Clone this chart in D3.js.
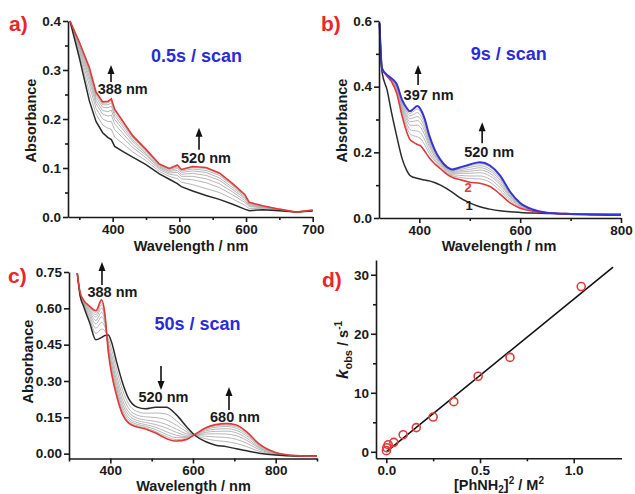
<!DOCTYPE html>
<html lang="en">
<head>
<meta charset="UTF-8">
<title>Spectral changes and kobs</title>
<script src="https://d3js.org/d3.v7.min.js"></script>
<style>
  body { margin: 0; background: #fff; }
  svg { font-family: "Liberation Sans", Arial, sans-serif; font-weight: bold; }
  .tick text { font-size: 13.5px; fill: #1a1a1a; }
  .domain, .tick line { stroke: #1a1a1a; stroke-width: 1.6; }
  .lbl { font-size: 14.5px; fill: #1a1a1a; }
  .letter { font-size: 21px; fill: #e8262c; }
  .rate { font-size: 18px; fill: #2b2bd9; }
  .note { font-size: 14.5px; fill: #1a1a1a; }
  .gray { fill: none; stroke: #a3a3a3; stroke-width: 0.8; }
  .black { fill: none; stroke: #2a2a2a; stroke-width: 1.5; }
  .red { fill: none; stroke: #e23a3a; stroke-width: 1.6; }
  .blue { fill: none; stroke: #3535d6; stroke-width: 2; }
</style>
</head>
<body>
<svg width="635" height="494"></svg>
<script>
// ---- panel a: 0.5 s / scan
const wlA = [336, 350, 365, 375, 385, 393, 398, 403, 415, 430, 450, 470, 485, 497, 503, 520, 540, 560, 580, 598, 605, 625, 650, 675, 700];
const blackA = [0.400, 0.325, 0.237, 0.195, 0.172, 0.162, 0.158, 0.144, 0.134, 0.122, 0.107, 0.088, 0.077, 0.068, 0.062, 0.053, 0.044, 0.036, 0.026, 0.016, 0.013, 0.015, 0.013, 0.010, 0.012];
const redA = [0.400, 0.357, 0.305, 0.255, 0.235, 0.236, 0.241, 0.220, 0.196, 0.166, 0.138, 0.108, 0.099, 0.106, 0.097, 0.103, 0.101, 0.090, 0.068, 0.046, 0.030, 0.023, 0.016, 0.010, 0.014];
const grayA = [
  [0.400, 0.333, 0.254, 0.210, 0.188, 0.181, 0.179, 0.163, 0.150, 0.133, 0.115, 0.093, 0.083, 0.078, 0.071, 0.066, 0.058, 0.050, 0.037, 0.024, 0.017, 0.017, 0.014, 0.010, 0.013],
  [0.400, 0.339, 0.268, 0.222, 0.200, 0.195, 0.195, 0.178, 0.162, 0.142, 0.121, 0.097, 0.087, 0.085, 0.078, 0.076, 0.070, 0.060, 0.045, 0.030, 0.021, 0.019, 0.014, 0.010, 0.013],
  [0.400, 0.344, 0.278, 0.231, 0.210, 0.206, 0.208, 0.190, 0.171, 0.148, 0.126, 0.100, 0.090, 0.091, 0.083, 0.083, 0.078, 0.068, 0.051, 0.034, 0.023, 0.020, 0.015, 0.010, 0.013],
  [0.400, 0.348, 0.286, 0.238, 0.217, 0.215, 0.218, 0.199, 0.179, 0.154, 0.129, 0.102, 0.093, 0.095, 0.087, 0.089, 0.085, 0.075, 0.056, 0.038, 0.025, 0.021, 0.015, 0.010, 0.013],
  [0.400, 0.351, 0.293, 0.244, 0.224, 0.223, 0.226, 0.206, 0.185, 0.158, 0.132, 0.104, 0.095, 0.099, 0.091, 0.094, 0.091, 0.080, 0.060, 0.041, 0.027, 0.022, 0.015, 0.010, 0.014],
  [0.400, 0.354, 0.298, 0.249, 0.229, 0.229, 0.233, 0.212, 0.190, 0.162, 0.135, 0.106, 0.097, 0.102, 0.094, 0.098, 0.095, 0.085, 0.064, 0.043, 0.028, 0.022, 0.016, 0.010, 0.014],
  [0.400, 0.356, 0.302, 0.253, 0.232, 0.233, 0.238, 0.217, 0.194, 0.164, 0.137, 0.107, 0.098, 0.104, 0.096, 0.101, 0.099, 0.088, 0.066, 0.045, 0.029, 0.023, 0.016, 0.010, 0.014]
];

// ---- panel b: 9 s / scan
const wlB = [321, 326, 336, 345, 355, 366, 375, 381, 388, 396, 403, 410, 420, 430, 442, 455, 465, 480, 500, 520, 540, 560, 580, 600, 625, 650, 700, 750, 800];
const blackB = [0.593, 0.445, 0.390, 0.320, 0.250, 0.180, 0.145, 0.130, 0.124, 0.121, 0.118, 0.116, 0.113, 0.108, 0.100, 0.089, 0.079, 0.062, 0.046, 0.034, 0.027, 0.022, 0.019, 0.017, 0.015, 0.014, 0.012, 0.011, 0.010];
const redB = [0.593, 0.456, 0.432, 0.415, 0.380, 0.309, 0.262, 0.240, 0.231, 0.224, 0.219, 0.205, 0.183, 0.166, 0.150, 0.133, 0.124, 0.117, 0.109, 0.106, 0.096, 0.073, 0.046, 0.030, 0.021, 0.016, 0.013, 0.012, 0.012];
const blueB = [0.593, 0.456, 0.436, 0.425, 0.408, 0.359, 0.335, 0.325, 0.332, 0.341, 0.330, 0.305, 0.250, 0.210, 0.177, 0.155, 0.148, 0.154, 0.163, 0.170, 0.160, 0.130, 0.080, 0.046, 0.026, 0.017, 0.012, 0.010, 0.009];
const grayB = [
  [0.593, 0.456, 0.433, 0.417, 0.386, 0.319, 0.277, 0.257, 0.251, 0.247, 0.241, 0.225, 0.196, 0.175, 0.155, 0.137, 0.129, 0.124, 0.120, 0.119, 0.109, 0.084, 0.053, 0.033, 0.022, 0.016, 0.013, 0.012, 0.011],
  [0.593, 0.456, 0.433, 0.419, 0.390, 0.327, 0.288, 0.270, 0.266, 0.265, 0.258, 0.240, 0.206, 0.181, 0.159, 0.141, 0.132, 0.130, 0.128, 0.128, 0.118, 0.093, 0.058, 0.036, 0.023, 0.016, 0.013, 0.011, 0.011],
  [0.593, 0.456, 0.434, 0.420, 0.394, 0.334, 0.299, 0.283, 0.282, 0.283, 0.275, 0.255, 0.217, 0.188, 0.164, 0.144, 0.136, 0.136, 0.136, 0.138, 0.128, 0.102, 0.063, 0.038, 0.024, 0.017, 0.013, 0.011, 0.011],
  [0.593, 0.456, 0.434, 0.421, 0.397, 0.340, 0.307, 0.293, 0.294, 0.297, 0.288, 0.267, 0.225, 0.193, 0.167, 0.147, 0.139, 0.140, 0.142, 0.146, 0.136, 0.108, 0.067, 0.040, 0.024, 0.017, 0.012, 0.011, 0.010],
  [0.593, 0.456, 0.435, 0.422, 0.400, 0.346, 0.315, 0.302, 0.305, 0.309, 0.300, 0.278, 0.232, 0.198, 0.170, 0.149, 0.142, 0.144, 0.148, 0.153, 0.143, 0.115, 0.071, 0.042, 0.025, 0.017, 0.012, 0.011, 0.010],
  [0.593, 0.456, 0.435, 0.423, 0.403, 0.351, 0.323, 0.311, 0.315, 0.321, 0.311, 0.288, 0.239, 0.203, 0.172, 0.151, 0.144, 0.148, 0.154, 0.159, 0.149, 0.120, 0.074, 0.043, 0.025, 0.017, 0.012, 0.010, 0.010],
  [0.593, 0.456, 0.436, 0.424, 0.406, 0.355, 0.329, 0.318, 0.324, 0.332, 0.321, 0.297, 0.245, 0.206, 0.175, 0.153, 0.146, 0.151, 0.159, 0.165, 0.155, 0.125, 0.077, 0.045, 0.026, 0.017, 0.012, 0.010, 0.009]
];

// ---- panel c: 50 s / scan
const wlC = [320, 327, 335, 350, 365, 379, 387, 395, 403, 415, 430, 445, 465, 485, 510, 535, 560, 585, 605, 630, 655, 680, 705, 730, 760, 800, 850, 900];
const blackC = [0.745, 0.650, 0.610, 0.540, 0.470, 0.480, 0.488, 0.490, 0.460, 0.380, 0.290, 0.225, 0.192, 0.185, 0.192, 0.192, 0.160, 0.110, 0.075, 0.050, 0.035, 0.029, 0.020, 0.012, 0.002, -0.006, -0.010, -0.010];
const redC = [0.745, 0.665, 0.635, 0.608, 0.590, 0.635, 0.575, 0.421, 0.330, 0.240, 0.160, 0.125, 0.110, 0.102, 0.085, 0.063, 0.052, 0.059, 0.080, 0.106, 0.120, 0.124, 0.118, 0.090, 0.040, 0.005, -0.008, -0.010];
const grayC = [
  [0.745, 0.653, 0.616, 0.555, 0.496, 0.514, 0.507, 0.475, 0.431, 0.349, 0.261, 0.203, 0.174, 0.167, 0.168, 0.164, 0.136, 0.099, 0.076, 0.062, 0.054, 0.050, 0.042, 0.029, 0.010, -0.004, -0.010, -0.010],
  [0.745, 0.656, 0.620, 0.567, 0.518, 0.542, 0.523, 0.462, 0.408, 0.324, 0.238, 0.185, 0.159, 0.152, 0.149, 0.140, 0.117, 0.090, 0.077, 0.072, 0.069, 0.067, 0.059, 0.043, 0.017, -0.002, -0.009, -0.010],
  [0.745, 0.658, 0.624, 0.577, 0.536, 0.565, 0.536, 0.452, 0.389, 0.303, 0.219, 0.170, 0.147, 0.139, 0.133, 0.121, 0.101, 0.082, 0.078, 0.081, 0.082, 0.081, 0.074, 0.055, 0.023, 0.000, -0.009, -0.010],
  [0.745, 0.660, 0.627, 0.586, 0.550, 0.584, 0.546, 0.444, 0.373, 0.286, 0.203, 0.158, 0.137, 0.129, 0.120, 0.106, 0.088, 0.076, 0.078, 0.088, 0.092, 0.093, 0.086, 0.064, 0.027, 0.001, -0.009, -0.010],
  [0.745, 0.662, 0.630, 0.593, 0.564, 0.601, 0.556, 0.436, 0.359, 0.271, 0.189, 0.147, 0.128, 0.120, 0.109, 0.091, 0.076, 0.070, 0.079, 0.094, 0.101, 0.103, 0.096, 0.073, 0.032, 0.003, -0.008, -0.010],
  [0.745, 0.663, 0.632, 0.599, 0.574, 0.615, 0.564, 0.430, 0.347, 0.258, 0.177, 0.138, 0.121, 0.113, 0.099, 0.080, 0.066, 0.066, 0.079, 0.099, 0.109, 0.112, 0.105, 0.080, 0.035, 0.004, -0.008, -0.010],
  [0.745, 0.664, 0.634, 0.604, 0.583, 0.626, 0.570, 0.425, 0.338, 0.248, 0.168, 0.131, 0.115, 0.107, 0.091, 0.071, 0.058, 0.062, 0.080, 0.103, 0.115, 0.118, 0.112, 0.085, 0.038, 0.004, -0.008, -0.010]
];

// ---- panel d: kobs vs [PhNH2]^2
const amineSq = [0.0004, 0.0025, 0.01, 0.04, 0.09, 0.16, 0.25, 0.36, 0.49, 0.66, 1.04];
const kobs = [0.2, 0.7, 1.2, 1.6, 2.9, 4.1, 5.9, 8.5, 12.8, 16.0, 28.0];
const fitX = [0, 1.21];
const fitY = [0, 31.3];

const svg = d3.select("svg");

function makePanel(c) {
  const g = svg.append("g");
  const x = d3.scaleLinear().domain(c.xDom).range(c.xRange);
  const y = d3.scaleLinear().domain(c.yDom).range(c.yRange);
  return { g, x, y, c };
}

function drawAxes(p) {
  const c = p.c;
  const bottom = c.yRange[0], left = c.xRange[0];
  p.g.append("g").attr("transform", "translate(0," + bottom + ")")
    .call(d3.axisBottom(p.x).tickValues(c.xMaj).tickSize(5).tickSizeOuter(0).tickPadding(2).tickFormat(c.xFmt));
  if (c.xMin) p.g.append("g").attr("transform", "translate(0," + bottom + ")")
    .call(d3.axisBottom(p.x).tickValues(c.xMin).tickSize(3).tickFormat(""))
    .call(a => a.select(".domain").remove());
  p.g.append("g").attr("transform", "translate(" + left + ",0)")
    .call(d3.axisLeft(p.y).tickValues(c.yMaj).tickSize(5).tickSizeOuter(0).tickPadding(2).tickFormat(c.yFmt));
  if (c.yMin) p.g.append("g").attr("transform", "translate(" + left + ",0)")
    .call(d3.axisLeft(p.y).tickValues(c.yMin).tickSize(3).tickFormat(""))
    .call(a => a.select(".domain").remove());
}

function curveOf(p, wl, vals, cls, curve) {
  p.g.append("path").datum(vals).attr("class", cls)
    .attr("d", d3.line().x((d, i) => p.x(wl[i])).y(d => p.y(d)).curve(curve));
}

function arrow(p, wl, from, to) {
  const cx = p.x(wl), y0 = p.y(from), y1 = p.y(to);
  const dir = y1 < y0 ? 1 : -1;
  p.g.append("line").attr("x1", cx).attr("x2", cx).attr("y1", y0).attr("y2", y1 + dir * 6)
    .attr("stroke", "#111").attr("stroke-width", 1.6);
  p.g.append("path").attr("fill", "#111")
    .attr("d", `M${cx},${y1} L${cx - 3.5},${y1 + dir * 9} L${cx + 3.5},${y1 + dir * 9} Z`);
}

function note(p, wl, a, txt, cls) {
  return p.g.append("text").attr("class", cls || "note").attr("text-anchor", "middle")
    .attr("x", p.x(wl)).attr("y", p.y(a)).text(txt);
}

function yTitle(cx, cy, txt) {
  return svg.append("text").attr("class", "lbl").attr("text-anchor", "middle")
    .attr("transform", `translate(${cx},${cy}) rotate(-90)`).attr("dy", "0.35em").text(txt);
}

function xTitle(cx, cy, txt) {
  return svg.append("text").attr("class", "lbl").attr("text-anchor", "middle")
    .attr("x", cx).attr("y", cy).text(txt);
}

const f1 = d3.format(".1f"), f2 = d3.format(".2f");

// panel a
const pa = makePanel({ xDom: [333, 700], xRange: [68, 312.7], yDom: [0, 0.4], yRange: [217, 21],
  xMaj: [400, 500, 600, 700], xMin: [350, 450, 550, 650], yMaj: [0, 0.1, 0.2, 0.3, 0.4], yMin: [0.05, 0.15, 0.25, 0.35],
  xFmt: d3.format("d"), yFmt: f1 });
grayA.forEach(s => curveOf(pa, wlA, s, "gray", d3.curveLinear));
curveOf(pa, wlA, blackA, "black", d3.curveLinear);
curveOf(pa, wlA, redA, "red", d3.curveLinear);
drawAxes(pa);
arrow(pa, 397.5, 0.2755, 0.310);
note(pa, 415, 0.251, "388 nm");
arrow(pa, 529.5, 0.137, 0.182);
note(pa, 540, 0.110, "520 nm");
note(pa, 525.7, 0.316, "0.5s / scan", "rate");

// panel b
const pb = makePanel({ xDom: [320, 800], xRange: [379, 621], yDom: [0, 0.6], yRange: [218, 21],
  xMaj: [400, 600, 800], xMin: [500, 700], yMaj: [0, 0.2, 0.4, 0.6], yMin: [0.1, 0.3, 0.5],
  xFmt: d3.format("d"), yFmt: f1 });
grayB.forEach(s => curveOf(pb, wlB, s, "gray", d3.curveMonotoneX));
curveOf(pb, wlB, blackB, "black", d3.curveMonotoneX);
curveOf(pb, wlB, redB, "red", d3.curveMonotoneX);
curveOf(pb, wlB, blueB, "blue", d3.curveMonotoneX);
drawAxes(pb);
arrow(pb, 397.5, 0.405, 0.466);
note(pb, 418.3, 0.359, "397 nm");
arrow(pb, 524.6, 0.228, 0.292);
note(pb, 538.5, 0.186, "520 nm");
note(pb, 577.2, 0.481, "9s / scan", "rate");
note(pb, 496.8, 0.079, "2").style("font-size", "13px").style("fill", "#e23a3a");
note(pb, 498.7, 0.024, "1").style("font-size", "13px");

// panel c
const pc = makePanel({ xDom: [300, 900], xRange: [69, 317], yDom: [-0.02, 0.75], yRange: [458.5, 272],
  xMaj: [400, 600, 800], xMin: [300, 500, 700, 900], yMaj: [0, 0.15, 0.3, 0.45, 0.6, 0.75],
  xFmt: d3.format("d"), yFmt: f2 });
grayC.forEach(s => curveOf(pc, wlC, s, "gray", d3.curveMonotoneX));
curveOf(pc, wlC, blackC, "black", d3.curveMonotoneX);
curveOf(pc, wlC, redC, "red", d3.curveMonotoneX);
drawAxes(pc);
arrow(pc, 379.8, 0.696, 0.791);
note(pc, 405.2, 0.647, "388 nm");
arrow(pc, 522.6, 0.362, 0.263);
note(pc, 528.6, 0.213, "520 nm");
arrow(pc, 687.1, 0.180, 0.275);
note(pc, 701.6, 0.131, "680 nm");
note(pc, 610.9, 0.511, "50s / scan", "rate");

// panel d
const pd = makePanel({ xDom: [-0.055, 1.255], xRange: [376, 621.5], yDom: [-1.1, 32.5], yRange: [458.3, 260],
  xMaj: [0, 0.5, 1.0], xMin: [0.25, 0.75], yMaj: [0, 10, 20, 30], yMin: [5, 15, 25],
  xFmt: f1, yFmt: d3.format("d") });
pd.g.append("path").datum(fitX.map((v, i) => [v, fitY[i]]))
  .attr("fill", "none").attr("stroke", "#111").attr("stroke-width", 1.6)
  .attr("d", d3.line().x(d => pd.x(d[0])).y(d => pd.y(d[1])));
pd.g.selectAll("circle").data(amineSq).join("circle")
  .attr("cx", d => pd.x(d)).attr("cy", (d, i) => pd.y(kobs[i])).attr("r", 4)
  .attr("fill", "none").attr("stroke", "#e23a3a").attr("stroke-width", 1.6);
drawAxes(pd);

// titles
yTitle(31, 120.5, "Absorbance");
yTitle(342, 120.5, "Absorbance");
yTitle(27.5, 361.5, "Absorbance");
xTitle(191, 251, "Wavelength / nm");
xTitle(499, 251, "Wavelength / nm");
xTitle(193.5, 491, "Wavelength / nm");

const kt = svg.append("text").attr("class", "lbl").attr("text-anchor", "middle")
  .attr("transform", "translate(343,350) rotate(-90)").attr("dy", "0.35em");
kt.append("tspan").style("font-style", "italic").style("font-size", "17px").text("k");
kt.append("tspan").attr("dy", 4).style("font-size", "11px").text("obs");
kt.append("tspan").attr("dy", -4).text(" / s");
kt.append("tspan").attr("dy", -6).style("font-size", "10px").text("-1");

const xt = svg.append("text").attr("class", "lbl").attr("text-anchor", "middle").attr("x", 499).attr("y", 490);
xt.append("tspan").text("[PhNH");
xt.append("tspan").attr("dy", 3).style("font-size", "10px").text("2");
xt.append("tspan").attr("dy", -3).text("]");
xt.append("tspan").attr("dy", -6).style("font-size", "10px").text("2");
xt.append("tspan").attr("dy", 6).text(" / M");
xt.append("tspan").attr("dy", -6).style("font-size", "10px").text("2");

// panel letters
svg.append("text").attr("class", "letter").attr("x", 9).attr("y", 31).text("a)");
svg.append("text").attr("class", "letter").attr("x", 321).attr("y", 31).text("b)");
svg.append("text").attr("class", "letter").attr("x", 8).attr("y", 283).text("c)");
svg.append("text").attr("class", "letter").attr("x", 322).attr("y", 287).text("d)");
</script>
</body>
</html>
